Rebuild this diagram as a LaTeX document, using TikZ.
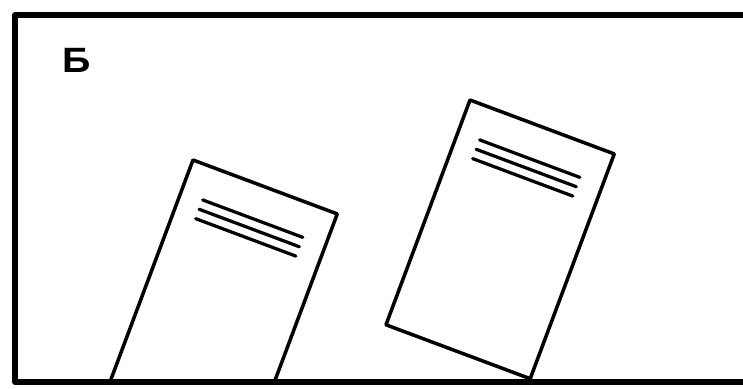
\documentclass[tikz,border=0pt]{standalone}
\usepackage{fontspec}
\newfontfamily\labelfont{Liberation Sans}
\begin{document}
\begin{tikzpicture}[x=0.025cm,y=-0.025cm,line join=round,
		frame/.style={line width=3.6pt},
		sheet/.style={line width=2.5pt},
		textline/.style={line width=2.3pt,line cap=round},
		pics/paper/.style={code={
			\draw[sheet] (0,0) rectangle (154,240);
			\foreach \d in {34,44,54} \draw[textline] (23,\d) -- (130,\d);
		}}]
	\def \W{743}\def \H{388}
	\useasboundingbox (0,0) rectangle (\W,\H);
	\begin{scope}
		\clip (15,15) rectangle (\W,382);
		\pic[rotate=-20.5] at (193,160) {paper};
		\pic[rotate=-20.5] at (470,100) {paper};
	\end{scope}
	\draw[frame] (\W+5,15) -- (15,15) -- (15,382) -- (\W+5,382);
	\node[anchor=base west,inner sep=0pt,xscale=1.12,font=\labelfont\bfseries\fontsize{25}{25}\selectfont] (label) at (62,72) {Б};
\end{tikzpicture}
\end{document}
